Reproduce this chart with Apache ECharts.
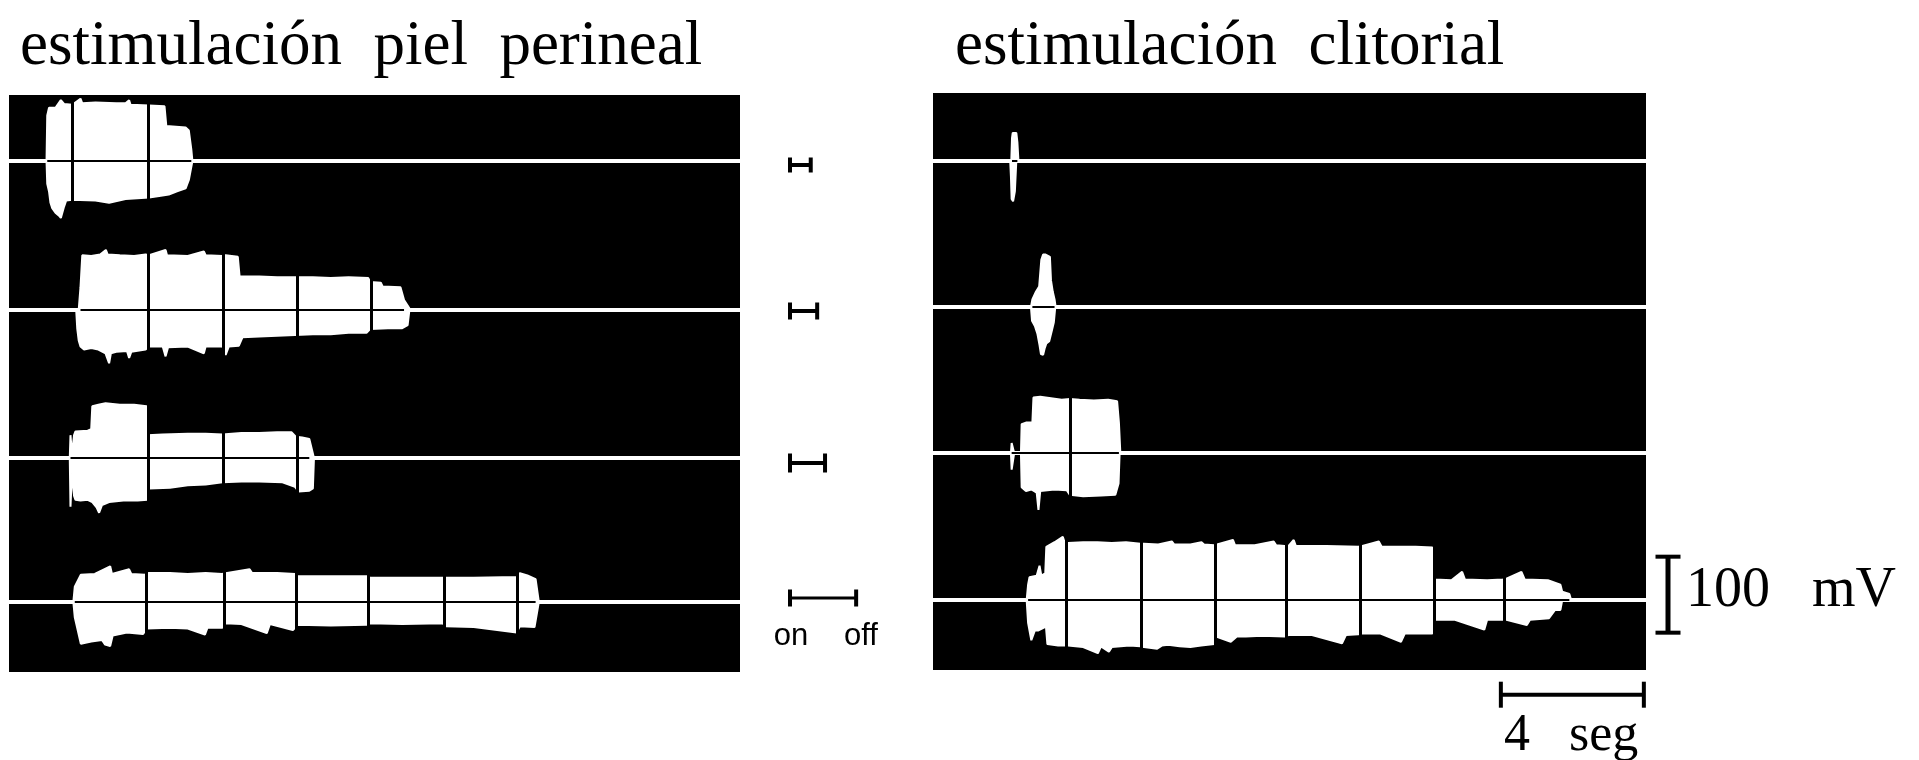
<!DOCTYPE html>
<html><head><meta charset="utf-8">
<script src="https://cdn.jsdelivr.net/npm/echarts@6/dist/echarts.min.js"></script>
<style>html,body{margin:0;padding:0;background:#fff}#c{width:1919px;height:760px}</style>
</head><body><div id="c"></div>
<script>
// ---------------- DATA (time in s, amplitude in mV) ----------------
const titleLeft = 'estimulación  piel  perineal';
const titleRight = 'estimulación  clitorial';

// Left panel: stimulation of perineal skin
const L1_up = [[1.05,0],[1.07,60],[1.12,70],[1.30,70],[1.45,80],[1.54,75],[1.77,74],[2.00,82],[2.05,76],[2.42,77],[3.00,76],[3.26,76],[3.36,80],[3.40,74],[3.92,73],[4.35,72],[4.40,46],[4.94,44],[5.03,40],[5.10,15],[5.13,0]];
const L1_lo = [[1.05,0],[1.07,-30],[1.12,-40],[1.16,-55],[1.21,-62],[1.30,-68],[1.40,-72],[1.45,-75],[1.54,-60],[1.60,-52],[1.77,-51],[2.42,-52],[2.80,-55],[3.26,-50],[3.92,-48],[4.20,-46],[4.47,-44],[4.70,-40],[4.94,-36],[5.03,-25],[5.13,0]];
const L1_marks = [1.77, 3.90];

const L2_up = [[1.95,0],[2.00,30],[2.05,72],[2.30,71],[2.55,73],[2.71,79],[2.76,73],[3.10,72],[3.50,71],[3.82,73],[3.92,72],[4.38,79],[4.42,72],[5.00,71],[5.45,77],[5.50,72],[5.97,71],[6.06,72],[6.40,70],[6.45,44],[7.00,44],[7.50,43],[8.00,43],[8.50,43],[9.00,42],[9.50,43],[10.05,42],[10.10,37],[10.40,36],[10.45,31],[10.95,30],[11.05,13],[11.23,0]];
const L2_lo = [[1.88,0],[1.91,-25],[1.95,-40],[2.00,-48],[2.10,-52],[2.30,-50],[2.50,-52],[2.70,-57],[2.80,-70],[2.85,-57],[3.00,-55],[3.30,-54],[3.36,-63],[3.42,-55],[3.82,-52],[3.92,-48],[4.30,-48],[4.38,-61],[4.45,-49],[5.00,-48],[5.45,-57],[5.50,-48],[5.97,-48],[6.06,-59],[6.15,-48],[6.43,-47],[6.53,-36],[7.00,-35],[7.50,-34],[8.00,-33],[8.50,-32],[9.00,-32],[9.50,-30],[10.00,-30],[10.10,-25],[10.60,-24],[11.00,-24],[11.15,-20],[11.20,0]];
const L2_marks = [3.89, 5.99, 8.07, 10.12];

const L3_up = [[1.70,0],[1.72,30],[1.76,5],[1.82,30],[1.86,35],[2.20,36],[2.30,38],[2.33,68],[2.50,70],[2.70,72],[2.90,71],[3.10,70],[3.50,70],[3.85,68],[3.88,30],[4.30,31],[5.00,32],[5.50,32],[5.97,31],[6.00,32],[6.50,33],[7.00,33],[7.50,34],[7.90,34],[8.02,28],[8.20,27],[8.40,25],[8.53,0]];
const L3_lo = [[1.70,0],[1.72,-64],[1.76,-20],[1.82,-50],[1.86,-55],[2.00,-56],[2.20,-55],[2.33,-58],[2.45,-65],[2.52,-72],[2.60,-62],[2.80,-58],[3.20,-56],[3.60,-56],[3.87,-55],[3.92,-40],[4.50,-39],[5.00,-36],[5.50,-35],[5.97,-32],[6.50,-31],[7.00,-31],[7.65,-32],[8.00,-38],[8.10,-44],[8.40,-43],[8.50,-40],[8.53,0]];
const L3_marks = [3.90, 6.00, 8.07];

const L4_up = [[1.80,0],[1.84,20],[2.01,36],[2.40,37],[2.83,47],[2.88,37],[3.36,43],[3.42,37],[3.80,36],[3.90,38],[4.50,38],[5.00,37],[5.50,38],[5.96,37],[6.06,38],[6.73,43],[6.80,38],[7.50,38],[8.00,37],[8.08,34],[9.00,34],[10.00,34],[10.10,32],[11.00,32],[12.10,32],[12.22,32],[13.00,32],[14.20,33],[14.29,38],[14.50,35],[14.73,30],[14.82,0]];
const L4_lo = [[1.80,0],[1.84,-20],[2.01,-55],[2.30,-52],[2.60,-50],[2.69,-56],[2.83,-58],[2.90,-44],[3.30,-40],[3.75,-42],[3.85,-35],[4.50,-34],[5.00,-35],[5.48,-43],[5.55,-34],[5.96,-34],[6.06,-28],[6.50,-29],[7.21,-41],[7.30,-29],[7.94,-37],[8.08,-30],[9.00,-31],[10.00,-30],[10.10,-28],[11.00,-29],[12.13,-28],[12.22,-32],[13.00,-33],[14.20,-40],[14.29,-32],[14.70,-33],[14.82,0]];
const L4_marks = [3.84, 6.01, 8.03, 10.06, 12.18, 14.22];

// Right panel: clitoral stimulation
const R1_up = [[2.19,0],[2.21,30],[2.23,37],[2.33,37],[2.36,25],[2.39,0]];
const R1_lo = [[2.16,0],[2.18,-20],[2.20,-50],[2.24,-53],[2.29,-40],[2.33,0]];
const R1_marks = [];

const R2_up = [[2.74,0],[2.78,10],[2.88,20],[2.97,27],[3.03,62],[3.08,69],[3.15,69],[3.27,66],[3.30,35],[3.35,20],[3.40,10],[3.43,0]];
const R2_lo = [[2.74,0],[2.77,-18],[2.85,-25],[2.92,-35],[2.98,-50],[3.02,-62],[3.08,-63],[3.12,-55],[3.17,-48],[3.25,-45],[3.33,-30],[3.38,-20],[3.42,0]];
const R2_marks = [];

const R3_up = [[2.18,0],[2.20,13],[2.24,13],[2.27,0],[2.46,0],[2.48,38],[2.60,40],[2.78,40],[2.81,73],[3.00,74],[3.30,72],[3.60,70],[3.83,71],[4.10,70],[4.50,69],[4.90,70],[5.15,68],[5.20,40],[5.24,0]];
const R3_lo = [[2.18,0],[2.20,-22],[2.25,-22],[2.27,0],[2.46,0],[2.48,-45],[2.60,-50],[2.75,-48],[2.90,-52],[2.95,-75],[3.00,-50],[3.40,-48],[3.74,-49],[3.83,-55],[4.20,-57],[4.70,-56],[5.10,-55],[5.19,-40],[5.22,0]];
const R3_marks = [3.83];

const R4_up = [[2.62,0],[2.66,20],[2.70,30],[2.90,32],[2.98,45],[3.03,32],[3.14,35],[3.17,70],[3.40,76],[3.63,83],[3.68,76],[3.78,75],[4.20,76],[4.60,76],[5.00,75],[5.40,76],[5.80,74],[5.90,74],[6.30,73],[6.68,77],[6.75,73],[7.20,73],[7.51,76],[7.58,73],[7.87,72],[7.92,72],[8.39,79],[8.45,72],[9.00,72],[9.53,77],[9.60,72],[9.84,71],[9.94,71],[10.09,79],[10.15,71],[11.00,71],[11.90,70],[12.01,71],[12.47,77],[12.55,70],[13.50,70],[13.97,69],[14.03,27],[14.50,26],[14.80,37],[14.88,27],[15.50,26],[15.94,27],[16.04,28],[16.46,37],[16.55,27],[17.20,26],[17.55,20],[17.60,11],[17.80,8],[17.85,0]];
const R4_lo = [[2.62,0],[2.66,-30],[2.75,-53],[2.85,-40],[2.95,-40],[3.16,-35],[3.20,-58],[3.50,-60],[3.78,-60],[4.20,-62],[4.61,-70],[4.70,-61],[4.92,-68],[5.00,-62],[5.50,-60],[5.80,-61],[5.90,-62],[6.27,-64],[6.40,-60],[6.58,-59],[6.90,-61],[7.20,-62],[7.50,-60],[7.87,-58],[7.92,-48],[8.33,-55],[8.50,-48],[8.75,-48],[9.20,-47],[9.84,-48],[9.94,-46],[10.60,-46],[11.44,-57],[11.55,-46],[11.90,-45],[12.01,-44],[12.50,-44],[13.09,-55],[13.20,-44],[13.97,-44],[14.03,-26],[14.60,-26],[15.42,-39],[15.50,-26],[15.94,-26],[16.04,-26],[16.61,-33],[16.70,-26],[17.23,-24],[17.40,-13],[17.55,-13],[17.60,0]];
const R4_marks = [3.73, 5.83, 7.89, 9.89, 11.94, 14.01, 15.99];

// stimulus on-off durations (s) and calibration bars
const stimDurations = [0.58, 0.76, 0.98, 1.85];
const stimLabels = ['on', 'off'];
const timeBar = 4;      // seg
const voltBar = [-43, 57]; // 100 mV span
const timeBarLabel = '4   seg';
const voltBarLabel = '100   mV';

// ---------------- LAYOUT ----------------
const PX_PER_S = 35.75, PX_PER_MV = 0.76, HALF = 65;
const LP = {x: 9, y: 95, w: 731, h: 577};
const RP = {x: 933, y: 93, w: 713, h: 577};
const LB = [161, 310, 458, 602];
const RB = [161, 307, 453, 600];
const STIM_Y = [165, 311, 463, 598];
const SERIF = '"Liberation Serif", "Times New Roman", serif';
const SANS = '"Liberation Sans", Arial, sans-serif';

const grids = [], xAxes = [], yAxes = [], series = [];
function addGrid(g, xr, yr) {
  const i = grids.length;
  grids.push(Object.assign({containLabel: false}, g));
  xAxes.push({type: 'value', gridIndex: i, min: xr[0], max: xr[1], show: false});
  yAxes.push({type: 'value', gridIndex: i, min: yr[0], max: yr[1], show: false});
  return i;
}
// panel backgrounds
addGrid({left: LP.x, top: LP.y, width: LP.w, height: LP.h, show: true, backgroundColor: '#000', borderWidth: 0}, [0, 1], [0, 1]);
addGrid({left: RP.x, top: RP.y, width: RP.w, height: RP.h, show: true, backgroundColor: '#000', borderWidth: 0}, [0, 1], [0, 1]);

const mvHalf = HALF / PX_PER_MV;
function addTrace(panel, base, up, lo, marks) {
  const tmax = panel.w / PX_PER_S;
  const gi = addGrid({left: panel.x, top: base - HALF, width: panel.w, height: 2 * HALF}, [0, tmax], [-mvHalf, mvHalf]);
  const common = {xAxisIndex: gi, yAxisIndex: gi, type: 'line', symbol: 'none', silent: true, animation: false};
  series.push(Object.assign({}, common, {data: [[0, 0], [tmax, 0]], lineStyle: {color: '#fff', width: 4}, z: 1}));
  series.push(Object.assign({}, common, {data: up, lineStyle: {color: '#fff', width: 2}, areaStyle: {color: '#fff', opacity: 1}, z: 2}));
  series.push(Object.assign({}, common, {data: lo, lineStyle: {color: '#fff', width: 2}, areaStyle: {color: '#fff', opacity: 1}, z: 2}));
  const s = up[1][0], e = up[up.length - 2][0];
  series.push(Object.assign({}, common, {
    data: [[s, 0], [e, 0]], lineStyle: {color: '#000', width: 2}, z: 3,
    markLine: {silent: true, symbol: ['none', 'none'], label: {show: false},
      lineStyle: {color: '#000', width: 3, type: 'solid'}, animation: false,
      data: marks.map(t => ({xAxis: t}))}
  }));
}
addTrace(LP, LB[0], L1_up, L1_lo, L1_marks);
addTrace(LP, LB[1], L2_up, L2_lo, L2_marks);
addTrace(LP, LB[2], L3_up, L3_lo, L3_marks);
addTrace(LP, LB[3], L4_up, L4_lo, L4_marks);
addTrace(RP, RB[0], R1_up, R1_lo, R1_marks);
addTrace(RP, RB[1], R2_up, R2_lo, R2_marks);
addTrace(RP, RB[2], R3_up, R3_lo, R3_marks);
addTrace(RP, RB[3], R4_up, R4_lo, R4_marks);

// I-bar renderer: data [start, end, pos], horizontal or vertical
function ibar(horizontal, lw, cap, capW) {
  return function (params, api) {
    const a = horizontal ? api.coord([api.value(0), api.value(2)]) : api.coord([api.value(2), api.value(0)]);
    const b = horizontal ? api.coord([api.value(1), api.value(2)]) : api.coord([api.value(2), api.value(1)]);
    const st = {stroke: '#000', lineWidth: lw};
    const cs = {stroke: '#000', lineWidth: capW};
    const h = cap / 2;
    const kids = [{type: 'line', shape: {x1: a[0], y1: a[1], x2: b[0], y2: b[1]}, style: st}];
    if (horizontal) {
      kids.push({type: 'line', shape: {x1: a[0], y1: a[1] - h, x2: a[0], y2: a[1] + h}, style: cs});
      kids.push({type: 'line', shape: {x1: b[0], y1: b[1] - h, x2: b[0], y2: b[1] + h}, style: cs});
    } else {
      kids.push({type: 'line', shape: {x1: a[0] - h, y1: a[1], x2: a[0] + h, y2: a[1]}, style: cs});
      kids.push({type: 'line', shape: {x1: b[0] - h, y1: b[1], x2: b[0] + h, y2: b[1]}, style: cs});
    }
    return {type: 'group', children: kids};
  };
}
// stimulus duration bars
const STIM_X = 790, STIM_W = 110;
stimDurations.forEach((d, i) => {
  const gi = addGrid({left: STIM_X, top: STIM_Y[i] - 15, width: STIM_W, height: 30}, [0, STIM_W / PX_PER_S], [0, 1]);
  series.push({type: 'custom', xAxisIndex: gi, yAxisIndex: gi, silent: true, animation: false,
    renderItem: ibar(true, i === 3 ? 3 : 4, i === 0 ? 15 : (i === 2 ? 19 : 17), 4), data: [[0, d, 0.5]]});
});
// 4 seg bar under right panel
{
  const tmax = RP.w / PX_PER_S;
  const gi = addGrid({left: RP.x, top: 683, width: RP.w, height: 26}, [0, tmax], [0, 1]);
  const end = tmax - 0.06;
  series.push({type: 'custom', xAxisIndex: gi, yAxisIndex: gi, silent: true, animation: false,
    renderItem: ibar(true, 4, 26, 4), data: [[end - timeBar, end, 0.55]]});
}
// 100 mV bar right of panel
{
  const gi = addGrid({left: 1656, top: RB[3] - HALF, width: 24, height: 2 * HALF}, [0, 1], [-mvHalf, mvHalf]);
  series.push({type: 'custom', xAxisIndex: gi, yAxisIndex: gi, silent: true, animation: false,
    renderItem: ibar(false, 5, 25, 4), data: [[voltBar[0], voltBar[1], 0.5]]});
}

function txt(text, x, y, size, family, align) {
  return {type: 'text', x: x, y: y, silent: true, z: 10,
    style: {text: text, fontSize: size, fontFamily: family, fill: '#000',
      align: align || 'left', textAlign: align || 'left', verticalAlign: 'middle', textVerticalAlign: 'middle'}};
}
const graphics = [
  txt(titleLeft, 20, 47, 63, SERIF),
  txt(titleRight, 955, 47, 63, SERIF),
  txt(voltBarLabel, 1686, 591, 56, SERIF),
  txt(timeBarLabel, 1504, 736, 52, SERIF),
  txt(stimLabels[0], 791, 636, 31, SANS, 'center'),
  txt(stimLabels[1], 861, 636, 31, SANS, 'center')
];

const chart = echarts.init(document.getElementById('c'), null, {renderer: 'canvas'});
chart.setOption({
  animation: false,
  backgroundColor: '#fff',
  grid: grids, xAxis: xAxes, yAxis: yAxes, series: series,
  graphic: graphics
});
</script></body></html>
